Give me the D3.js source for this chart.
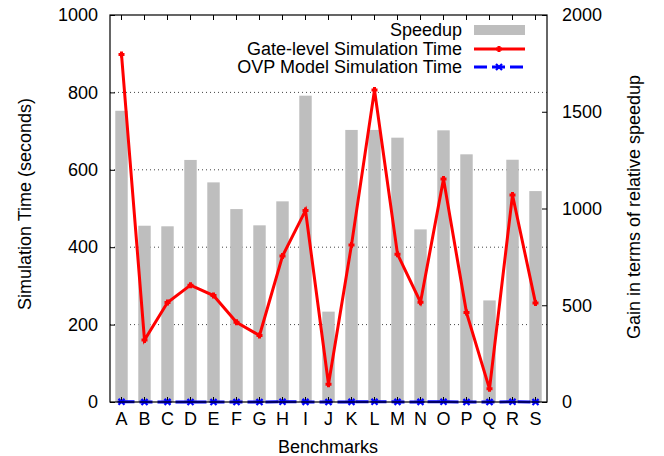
<!DOCTYPE html>
<html>
<head>
<meta charset="utf-8">
<script src="https://cdn.jsdelivr.net/npm/d3@7"></script>
<style>
  body { margin: 0; background: #fff; }
  svg text { font-family: "Liberation Sans", Arial, Helvetica, sans-serif; font-size: 18px; fill: #000; }
</style>
</head>
<body>
<div id="chart"></div>
<script>
// benchmark names
var benchmarks = ['A','B','C','D','E','F','G','H','I','J','K','L','M','N','O','P','Q','R','S'];
// speedup (right axis)
var speedup = [1505, 911, 908, 1251, 1135, 997, 913, 1037, 1583, 467, 1406, 1406, 1366, 892, 1404, 1280, 525, 1252, 1090];
// gate-level simulation time, seconds (left axis)
var gateTime = [898, 160, 257, 302, 275, 206, 172, 377, 495, 46, 406, 806, 382, 258, 576, 231, 34, 535, 256];
// OVP model simulation time, seconds (left axis)
var ovpTime = [0.6, 0.2, 0.3, 0.2, 0.2, 0.2, 0.2, 0.4, 0.3, 0.1, 0.3, 0.6, 0.3, 0.3, 0.4, 0.2, 0.1, 0.4, 0.2];
var leftTicks = [0, 200, 400, 600, 800, 1000];
var rightTicks = [0, 500, 1000, 1500, 2000];

var W = 664, H = 456;
var m = {left: 110, right: 117, top: 15, bottom: 54};
var pw = W - m.left - m.right, ph = H - m.top - m.bottom;

var svg = d3.select('#chart').append('svg').attr('width', W).attr('height', H);
var g = svg.append('g').attr('transform', `translate(${m.left},${m.top})`);

var x = d3.scaleBand().domain(benchmarks).range([0, pw]).paddingInner(0).paddingOuter(0);
var y = d3.scaleLinear().domain([0, 1000]).range([ph, 0]);
var y2 = d3.scaleLinear().domain([0, 2000]).range([ph, 0]);
var cx = d => x(d) + x.bandwidth() / 2;

// dotted grid lines
g.append('g').selectAll('line').data(leftTicks.slice(1, -1)).enter().append('line')
  .attr('x1', 0).attr('x2', pw).attr('y1', d => y(d)).attr('y2', d => y(d))
  .attr('stroke', '#444').attr('stroke-width', 1).attr('stroke-dasharray', '1,3');

// bars
var bw = x.bandwidth() * 0.54;
g.append('g').selectAll('rect').data(benchmarks).enter().append('rect')
  .attr('x', d => cx(d) - bw / 2)
  .attr('width', bw)
  .attr('y', (d, i) => y2(speedup[i]))
  .attr('height', (d, i) => ph - y2(speedup[i]))
  .attr('fill', '#bebebe');

// axes (ticks pointing inward, like gnuplot)
var fmt = d3.format('d');
g.append('g').attr('transform', `translate(0,${ph})`)
  .call(d3.axisBottom(x).tickSize(-5).tickPadding(10))
  .call(a => a.select('.domain').remove());
g.append('g')
  .call(d3.axisTop(x).tickSize(-5).tickFormat(''))
  .call(a => a.select('.domain').remove());
g.append('g')
  .call(d3.axisLeft(y).tickValues(leftTicks).tickFormat(fmt).tickSize(-5).tickPadding(12))
  .call(a => a.select('.domain').remove());
g.append('g').attr('transform', `translate(${pw},0)`)
  .call(d3.axisRight(y2).tickValues(rightTicks).tickFormat(fmt).tickSize(-5).tickPadding(15))
  .call(a => a.select('.domain').remove());
g.selectAll('.tick text').style('font-size', '18px').style('font-family', '"Liberation Sans", Arial, sans-serif');
g.selectAll('.tick line').attr('stroke', '#000');

// lines
var gateLine = d3.line().x((d, i) => cx(benchmarks[i])).y(d => y(d));
g.append('path').datum(gateTime).attr('d', gateLine)
  .attr('fill', 'none').attr('stroke', '#ff0000').attr('stroke-width', 3);
g.append('g').selectAll('path').data(gateTime).enter().append('path')
  .attr('transform', (d, i) => `translate(${cx(benchmarks[i])},${y(d)})`)
  .attr('d', 'M-3,0H3M0,-3V3').attr('stroke', '#ff0000').attr('stroke-width', 3);

g.append('path').datum(ovpTime).attr('d', gateLine)
  .attr('fill', 'none').attr('stroke', '#0000ff').attr('stroke-width', 3)
  .attr('stroke-dasharray', '13,5');
g.append('g').selectAll('path').data(ovpTime).enter().append('path')
  .attr('transform', (d, i) => `translate(${cx(benchmarks[i])},${y(d)})`)
  .attr('d', 'M-3,-3L3,3M-3,3L3,-3M-4,0H4').attr('stroke', '#0000ff').attr('stroke-width', 2.2);

// frame
g.append('rect').attr('width', pw).attr('height', ph)
  .attr('fill', 'none').attr('stroke', '#000').attr('stroke-width', 1.2);

// axis titles
svg.append('text').attr('transform', `translate(31,204) rotate(-90)`)
  .attr('text-anchor', 'middle').text('Simulation Time (seconds)');
svg.append('text').attr('transform', `translate(640,207) rotate(-90)`)
  .attr('text-anchor', 'middle').text('Gain in terms of relative speedup');
svg.append('text').attr('x', 328).attr('y', 453)
  .attr('text-anchor', 'middle').text('Benchmarks');

// legend
var legend = [
  {label: 'Speedup', type: 'bar', y: 30, base: 36},
  {label: 'Gate-level Simulation Time', type: 'gate', y: 49, base: 55},
  {label: 'OVP Model Simulation Time', type: 'ovp', y: 67, base: 73}
];
var lg = svg.append('g');
legend.forEach(function(l) {
  lg.append('text').attr('x', 462).attr('y', l.base).attr('text-anchor', 'end').text(l.label);
  if (l.type === 'bar') {
    lg.append('rect').attr('x', 474).attr('y', l.y - 5).attr('width', 51).attr('height', 10).attr('fill', '#bebebe');
  } else if (l.type === 'gate') {
    lg.append('line').attr('x1', 474).attr('x2', 525).attr('y1', l.y).attr('y2', l.y)
      .attr('stroke', '#ff0000').attr('stroke-width', 3);
    lg.append('path').attr('transform', `translate(499,${l.y})`).attr('d', 'M-3,0H3M0,-3V3')
      .attr('stroke', '#ff0000').attr('stroke-width', 3);
  } else {
    lg.append('line').attr('x1', 474).attr('x2', 525).attr('y1', l.y).attr('y2', l.y)
      .attr('stroke', '#0000ff').attr('stroke-width', 3).attr('stroke-dasharray', '13,5');
    lg.append('path').attr('transform', `translate(499,${l.y})`).attr('d', 'M-3,-3L3,3M-3,3L3,-3M-4,0H4')
      .attr('stroke', '#0000ff').attr('stroke-width', 2.2);
  }
});
</script>
</body>
</html>
